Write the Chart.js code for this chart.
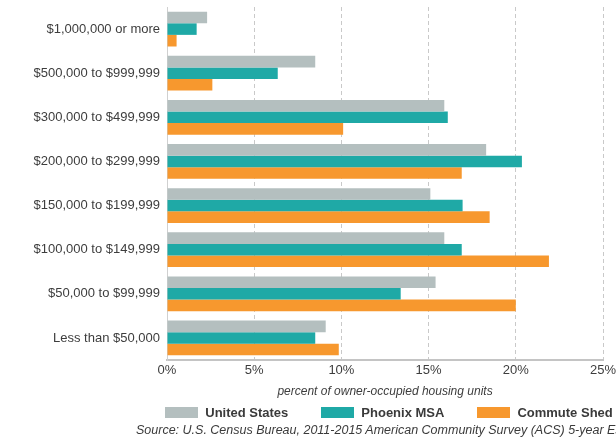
<!DOCTYPE html>
<html lang="en">
<head>
    <meta charset="UTF-8">
    <title>Home values</title>
    <script src="https://cdn.jsdelivr.net/npm/chart.js"></script>
    <style>
        html, body { margin: 0; padding: 0; background: #fff; }
        #wrap { width: 616px; height: 441px; position: relative; overflow: hidden; }
        #legend {
            position: absolute; top: 405px; height: 14px;
            display: flex; justify-content: center; align-items: center; gap: 33px;
            font: bold 13px 'Liberation Sans', Arial, sans-serif; color: #3a3a3a;
        }
        #legend .item { display: flex; align-items: center; white-space: nowrap; }
        #legend .box { width: 33px; height: 11px; margin-right: 7px; }
        #source {
            position: absolute; left: 136px; top: 423px; white-space: nowrap;
            font: italic 12.5px 'Liberation Sans', Arial, sans-serif; color: #3a3a3a;
        }
    </style>
</head>
<body>
    <div id="wrap">
        <canvas id="homeChart"></canvas>
        <div id="legend"></div>
        <div id="source">Source: U.S. Census Bureau, 2011-2015 American Community Survey (ACS) 5-year Estimates</div>
    </div>

    <script>
        const categories = [
            '$1,000,000 or more',
            '$500,000 to $999,999',
            '$300,000 to $499,999',
            '$200,000 to $299,999',
            '$150,000 to $199,999',
            '$100,000 to $149,999',
            '$50,000 to $99,999',
            'Less than $50,000'
        ];
        const unitedStates = [2.3, 8.5, 15.9, 18.3, 15.1, 15.9, 15.4, 9.1];
        const phoenixMsa = [1.7, 6.35, 16.1, 20.35, 16.95, 16.9, 13.4, 8.5];
        const commuteShed = [0.55, 2.6, 10.1, 16.9, 18.5, 21.9, 20.0, 9.85];
        const xTicks = [0, 5, 10, 15, 20, 25];

        const labelFont = "'Liberation Sans', Arial, sans-serif";
        const textColor = '#3d3d3d';

        const chart = new Chart(document.getElementById('homeChart'), {
            type: 'bar',
            data: {
                labels: categories,
                datasets: [
                    { label: 'United States', data: unitedStates, backgroundColor: '#b4bfbf' },
                    { label: 'Phoenix MSA', data: phoenixMsa, backgroundColor: '#1fa9a6' },
                    { label: 'Commute Shed', data: commuteShed, backgroundColor: '#f7982e' }
                ]
            },
            options: {
                indexAxis: 'y',
                responsive: true,
                maintainAspectRatio: false,
                animation: false,
                categoryPercentage: 0.79,
                barPercentage: 1,
                layout: { padding: { top: 7, right: 0, left: 0, bottom: 42 } },
                scales: {
                    x: {
                        min: 0,
                        max: 25,
                        afterBuildTicks: (scale) => { scale.ticks = xTicks.map(v => ({ value: v })); },
                        afterFit: (scale) => { scale.paddingRight = 13; },
                        grid: { color: '#c9c9c9', lineWidth: 1, drawTicks: false },
                        border: { display: true, color: '#c4c4c4', width: 2, dash: [4, 3] },
                        ticks: {
                            padding: 3,
                            color: textColor,
                            font: { family: labelFont, size: 13 },
                            callback: (v) => v + '%'
                        },
                        title: {
                            display: true,
                            text: 'percent of owner-occupied housing units',
                            color: textColor,
                            padding: { top: 3, bottom: 0 },
                            font: { family: labelFont, size: 12, style: 'italic' }
                        }
                    },
                    y: {
                        afterFit: (scale) => {
                            scale.width = 167;
                            scale.paddingTop = 0;
                            scale.paddingBottom = 0;
                        },
                        grid: { display: false, drawTicks: false },
                        border: { display: true, color: '#d0d0d0', width: 1 },
                        ticks: {
                            padding: 7,
                            color: textColor,
                            font: { family: labelFont, size: 13 }
                        }
                    }
                },
                plugins: {
                    tooltip: { enabled: false },
                    legend: { display: false }
                }
            }
        });

        // html legend centred under the plot area
        const legendEl = document.getElementById('legend');
        legendEl.style.left = (chart.chartArea.left + 4) + 'px';
        legendEl.style.width = (chart.chartArea.right - chart.chartArea.left) + 'px';
        chart.data.datasets.forEach((ds) => {
            const item = document.createElement('span');
            item.className = 'item';
            const box = document.createElement('span');
            box.className = 'box';
            box.style.background = ds.backgroundColor;
            item.appendChild(box);
            item.appendChild(document.createTextNode(ds.label));
            legendEl.appendChild(item);
        });
    </script>
</body>
</html>
